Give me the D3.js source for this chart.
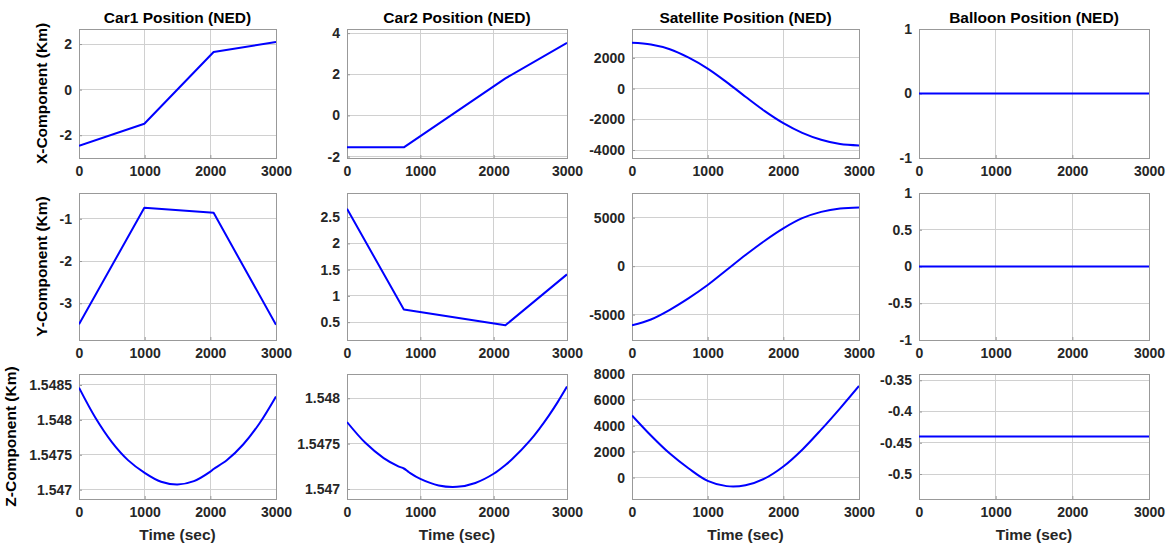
<!DOCTYPE html>
<html>
<head>
<meta charset="utf-8">
<script src="https://cdn.jsdelivr.net/npm/d3@7"></script>
<style>
  html, body { margin: 0; padding: 0; background: #fff; }
  svg { display: block; font-family: "Liberation Sans", Arial, Helvetica, sans-serif; }
</style>
</head>
<body>
<svg id="chart" width="1170" height="545"></svg>
<script>
// ---- labels ----
const colTitles = ["Car1 Position (NED)", "Car2 Position (NED)", "Satellite Position (NED)", "Balloon Position (NED)"];
const rowLabels = ["X-Component (Km)", "Y-Component (Km)", "Z-Component (Km)"];
const timeLabel = "Time (sec)";
const timeTicks = [0, 1000, 2000, 3000];
const timeDomain = [0, 3000];

// ---- Car1 (straight legs between waypoints) ----
const car1Time = [0, 995, 2050, 3000];
const car1X = [-2.46, -1.50, 1.65, 2.09];
const car1Y = [-3.50, -0.74, -0.86, -3.51];
const car1ZTime = [0, 250, 500, 750, 995, 1250, 1500, 1750, 2000, 2050, 2250, 2500, 2750, 3000];
const car1Z = [1.548461, 1.548030, 1.547682, 1.547420, 1.547245, 1.547114, 1.547075, 1.547123, 1.547259, 1.547297, 1.547421, 1.547647, 1.547952, 1.548335];

// ---- Car2 ----
const car2Time = [0, 775, 2160, 3000];
const car2X = [-1.55, -1.55, 1.80, 3.53];
const car2Y = [2.66, 0.74, 0.44, 1.41];
const car2ZTime = [0, 250, 500, 700, 775, 850, 1000, 1250, 1500, 1750, 2000, 2160, 2250, 2500, 2625, 2750, 2875, 3000];
const car2Z = [1.547738, 1.547509, 1.547341, 1.547250, 1.547226, 1.547182, 1.547111, 1.547039, 1.547024, 1.547067, 1.547168, 1.547264, 1.547327, 1.547539, 1.547666, 1.547806, 1.547960, 1.548128];

// ---- Satellite ----
const satTime = [0, 250, 500, 750, 1000, 1250, 1500, 1750, 2000, 2250, 2500, 2750, 3000];
const satX = [2980, 2870, 2560, 2010, 1300, 420, -530, -1450, -2250, -2880, -3330, -3610, -3700];
const satY = [-6100, -5500, -4500, -3300, -1950, -400, 1150, 2600, 3900, 4950, 5600, 5950, 6050];
const satZ = [4800, 3250, 1850, 700, -260, -665, -600, -90, 850, 2150, 3700, 5350, 7080];

// ---- Balloon (stationary) ----
const balloonTime = [0, 3000];
const balloonX = [0, 0];
const balloonY = [0, 0];
const balloonZ = [-0.44, -0.44];

// ---- axis limits and ticks, row by row ----
const yLimits = [
  [[-3.0, 2.66], [-2.07, 4.2], [-4520, 3880], [-1, 1]],
  [[-3.87, -0.39], [0.16, 2.96], [-7620, 7550], [-1, 1]],
  [[1.546867, 1.548657], [1.54689, 1.548267], [-1660, 8000], [-0.54, -0.34]]
];
const yTicks = [
  [[-2, 0, 2], [-2, 0, 2, 4], [-4000, -2000, 0, 2000], [-1, 0, 1]],
  [[-3, -2, -1], [0.5, 1, 1.5, 2, 2.5], [-5000, 0, 5000], [-1, -0.5, 0, 0.5, 1]],
  [[1.547, 1.5475, 1.548, 1.5485], [1.547, 1.5475, 1.548], [0, 2000, 4000, 6000, 8000], [-0.5, -0.45, -0.4, -0.35]]
];

const series = [
  [[car1Time, car1X], [car2Time, car2X], [satTime, satX], [balloonTime, balloonX]],
  [[car1Time, car1Y], [car2Time, car2Y], [satTime, satY], [balloonTime, balloonY]],
  [[car1ZTime, car1Z], [car2ZTime, car2Z], [satTime, satZ], [balloonTime, balloonZ]]
];
const curveKind = [
  ["linear", "linear", "smooth", "linear"],
  ["linear", "linear", "smooth", "linear"],
  ["smooth", "smooth", "smooth", "linear"]
];
const curves = { linear: d3.curveLinear, smooth: d3.curveCatmullRom.alpha(0.5) };

// ---- layout ----
const colBounds = [[79, 276], [347, 567], [632, 859], [919, 1149]];
const rowBounds = [[29, 158], [193, 340], [374, 499]];

const svg = d3.select("#chart");
const defs = svg.append("defs");

const gridColor = "#d0d0d0";
const boxColor = "#999999";
const textColor = "#262626";

rowBounds.forEach((rb, r) => {
  colBounds.forEach((cb, c) => {
    const x = d3.scaleLinear().domain(timeDomain).range(cb);
    const y = d3.scaleLinear().domain(yLimits[r][c]).range([rb[1], rb[0]]);
    const g = svg.append("g");
    const clipId = `clip-${r}-${c}`;
    defs.append("clipPath").attr("id", clipId)
      .append("rect").attr("x", cb[0]).attr("y", rb[0])
      .attr("width", cb[1] - cb[0]).attr("height", rb[1] - rb[0]);

    // grid
    g.append("g").selectAll("line").data(timeTicks).join("line")
      .attr("x1", d => x(d)).attr("x2", d => x(d))
      .attr("y1", rb[0]).attr("y2", rb[1])
      .attr("stroke", gridColor).attr("stroke-width", 1).attr("shape-rendering", "crispEdges");
    g.append("g").selectAll("line").data(yTicks[r][c]).join("line")
      .attr("x1", cb[0]).attr("x2", cb[1])
      .attr("y1", d => y(d)).attr("y2", d => y(d))
      .attr("stroke", gridColor).attr("stroke-width", 1).attr("shape-rendering", "crispEdges");

    // axes (ticks drawn inward)
    const xAxis = d3.axisBottom(x).tickValues(timeTicks).tickSize(-3).tickPadding(8).tickFormat(d3.format("d"));
    const yAxis = d3.axisLeft(y).tickValues(yTicks[r][c]).tickSize(-3).tickPadding(7).tickFormat(d => String(d));
    const gx = g.append("g").attr("transform", `translate(0,${rb[1]})`).call(xAxis);
    const gy = g.append("g").attr("transform", `translate(${cb[0]},0)`).call(yAxis);
    [gx, gy].forEach(ax => {
      ax.select(".domain").remove();
      ax.selectAll(".tick line").attr("stroke", boxColor);
      ax.selectAll(".tick text")
        .attr("fill", textColor)
        .style("font-size", "14px")
        .style("font-weight", "bold");
    });
    gx.selectAll(".tick text").attr("dy", "0.71em");

    // box
    g.append("rect")
      .attr("x", cb[0]).attr("y", rb[0])
      .attr("width", cb[1] - cb[0]).attr("height", rb[1] - rb[0])
      .attr("fill", "none").attr("stroke", boxColor).attr("stroke-width", 1)
      .attr("shape-rendering", "crispEdges");

    // data line
    const [ts, vs] = series[r][c];
    const pts = ts.map((t, i) => [t, vs[i]]);
    const line = d3.line()
      .x(d => x(d[0])).y(d => y(d[1]))
      .curve(curves[curveKind[r][c]]);
    g.append("path")
      .attr("clip-path", `url(#${clipId})`)
      .attr("d", line(pts))
      .attr("fill", "none")
      .attr("stroke", "#0000ff")
      .attr("stroke-width", 2)
      .attr("stroke-linejoin", "round");

    // column titles on the top row
    if (r === 0) {
      g.append("text")
        .attr("x", (cb[0] + cb[1]) / 2).attr("y", rb[0] - 6)
        .attr("text-anchor", "middle")
        .style("font-size", "15.5px").style("font-weight", "bold")
        .attr("fill", "#000")
        .text(colTitles[c]);
    }
    // time label under the bottom row
    if (r === 2) {
      g.append("text")
        .attr("x", (cb[0] + cb[1]) / 2).attr("y", 540)
        .attr("text-anchor", "middle")
        .style("font-size", "15.5px").style("font-weight", "bold")
        .attr("fill", textColor)
        .text(timeLabel);
    }
    // row label in the first column, left of the tick labels
    if (c === 0) {
      const labelWidth = d3.max(gy.selectAll(".tick text").nodes(), n => n.getComputedTextLength());
      const lx = cb[0] - 10 - labelWidth - 10;
      g.append("text")
        .attr("transform", `translate(${lx},${(rb[0] + rb[1]) / 2}) rotate(-90)`)
        .attr("text-anchor", "middle")
        .style("font-size", "15.5px").style("font-weight", "bold")
        .attr("fill", "#000")
        .text(rowLabels[r]);
    }
  });
});
</script>
</body>
</html>
